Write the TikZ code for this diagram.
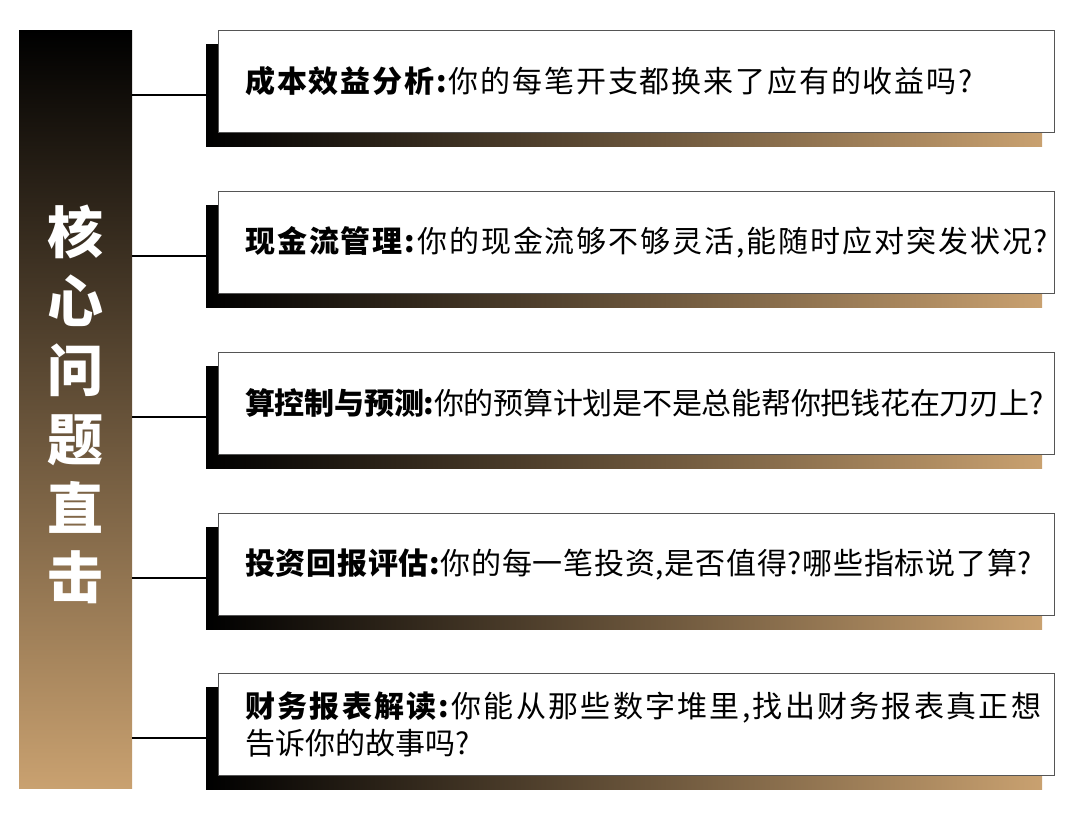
\documentclass[tikz,border=0pt]{standalone}
\usepackage{fontspec}
\setmainfont{Noto Sans CJK SC}
\definecolor{tanc}{HTML}{C9A170}
\definecolor{edgec}{HTML}{555555}
\newcommand{\lsp}[1]{\addfontfeatures{LetterSpace=#1}}
\begin{document}
\begin{tikzpicture}[x=1pt,y=-1pt,
  barbox/.style={anchor=north west,minimum width=113pt,minimum height=758pt,inner sep=0pt,top color=black,bottom color=tanc,draw=none},
  shadowbox/.style={anchor=north west,minimum width=836pt,minimum height=102pt,inner sep=0pt,left color=black,right color=tanc,draw=none},
  qbox/.style={anchor=north west,minimum width=836pt,minimum height=102pt,inner sep=0pt,fill=white,draw=edgec,line width=1pt},
  qtext/.style={anchor=west,inner sep=0pt,align=left,font=\fontsize{30}{37}\selectfont,text=black},
  conn/.style={draw=black,line width=1.8pt}
]
\useasboundingbox (0,0) rectangle (1080,824);
\node[barbox] (bar) at (19,30) {};
\node[text=white,font=\bfseries\fontsize{56}{69}\selectfont,align=center] (title) at (75.5,404) {核\\心\\问\\题\\直\\击};

% row 1
\node[shadowbox] (s1) at (206,44) {};
\node[qbox] (b1) at (218,30) {};
\node[qtext] (t1) at ([xshift=27pt]b1.west) {\lsp{6.2}\textbf{成本效益分析:}你的每笔开支都换来了应有的收益吗?};
\draw[conn] (bar.east |- s1.west) -- (s1.west);

% row 2
\node[shadowbox] (s2) at (206,205) {};
\node[qbox] (b2) at (218,191) {};
\node[qtext] (t2) at ([xshift=27pt]b2.west) {\lsp{6.4}\textbf{现金流管理:}你的现金流够不够灵活,能随时应对突发状况?};
\draw[conn] (bar.east |- s2.west) -- (s2.west);

% row 3
\node[shadowbox] (s3) at (206,366) {};
\node[qbox] (b3) at (218,352) {};
\node[qtext] (t3) at ([xshift=27pt]b3.west) {\lsp{-0.8}\textbf{算控制与预测:}你的预算计划是不是总能帮你把钱花在刀刃上?};
\draw[conn] (bar.east |- s3.west) -- (s3.west);

% row 4
\node[shadowbox] (s4) at (206,527) {};
\node[qbox] (b4) at (218,513) {};
\node[qtext] (t4) at ([xshift=27pt]b4.west) {\lsp{2.4}\textbf{投资回报评估:}你的每一笔投资,是否值得?哪些指标说了算?};
\draw[conn] (bar.east |- s4.west) -- (s4.west);

% row 5
\node[shadowbox] (s5) at (206,687) {};
\node[qbox] (b5) at (218,673) {};
\node[qtext] (t5) at ([xshift=27pt]b5.west) {\lsp{7.6}\textbf{财务报表解读:}你能从那些数字堆里,找出财务报表真正想\\告诉你的故事吗?};
\draw[conn] (bar.east |- s5.west) -- (s5.west);
\end{tikzpicture}
\end{document}
